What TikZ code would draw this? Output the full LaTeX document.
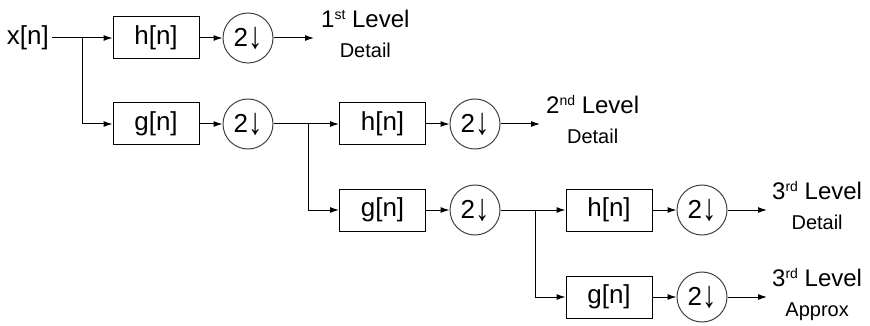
\documentclass[tikz,border=0pt]{standalone}
\usepackage{fontspec}
\setmainfont{Liberation Sans}
\usetikzlibrary{arrows.meta}
\begin{document}
\begin{tikzpicture}[x=1pt,y=-1pt,
  every node/.style={font=\fontsize{26}{26}\selectfont, inner sep=0pt},
  filt/.style={draw, line width=1pt, minimum width=86pt, minimum height=42pt},
  down/.style={draw=black!75, circle, line width=1pt, minimum size=50pt},
  conn/.style={line width=1pt, -{Latex[length=9pt,width=6pt]}},
  wire/.style={line width=1pt},
  lvl/.style={anchor=base west, font=\fontsize{24}{24}\selectfont},
  sub/.style={font=\fontsize{20}{20}\selectfont, anchor=base}
]
\newcommand{\supx}[1]{\raisebox{8pt}{\fontsize{14}{14}\selectfont #1}}
\newcommand{\dwn}{2\raisebox{-2pt}{\scalebox{1.1}[1.45]{↓}}}
\useasboundingbox (0,0) rectangle (870,326);

% row 1
\node[anchor=east, inner sep=3pt] (x) at (52,38) {x[n]};
\coordinate (b1) at (82,38);
\node[filt] (h1) at (156,38) {h[n]};
\node[down] (d1) at (248,38) {\dwn};
\coordinate (o1) at (314,38);
% row 2
\node[filt] (g1) at (156,124) {g[n]};
\node[down] (d2) at (248,124) {\dwn};
\coordinate (b2) at (308,124);
\node[filt] (h2) at (382.5,124) {h[n]};
\node[down] (d3) at (475,124) {\dwn};
\coordinate (o2) at (540,124);
% row 3
\node[filt] (g2) at (382.5,210) {g[n]};
\node[down] (d4) at (475,210) {\dwn};
\coordinate (b3) at (535,210);
\node[filt] (h3) at (609,210) {h[n]};
\node[down] (d5) at (702,210) {\dwn};
\coordinate (o3) at (767,210);
% row 4
\node[filt] (g3) at (609,297) {g[n]};
\node[down] (d6) at (702,297) {\dwn};
\coordinate (o4) at (767,297);

% labels
\node[lvl] (l1) at (321,27.5) {1\supx{st} Level};
\node[sub] (t1) at ([yshift=-30pt]l1.base) {Detail};
\node[lvl] (l2) at (546,113.5) {2\supx{nd} Level};
\node[sub] (t2) at ([yshift=-30pt]l2.base) {Detail};
\node[lvl] (l3) at (772,199.5) {3\supx{rd} Level};
\node[sub] (t3) at ([yshift=-30pt]l3.base) {Detail};
\node[lvl] (l4) at (772,286.5) {3\supx{rd} Level};
\node[sub] (t4) at ([yshift=-30pt]l4.base) {Approx};

% connectors
\draw[wire] (x) -- (b1);
\draw[conn] (b1) -- (h1);
\draw[conn] (h1) -- (d1);
\draw[conn] (d1) -- (o1);
\draw[conn] (b1) |- (g1);
\draw[conn] (g1) -- (d2);
\draw[wire] (d2) -- (b2);
\draw[conn] (b2) -- (h2);
\draw[conn] (h2) -- (d3);
\draw[conn] (d3) -- (o2);
\draw[conn] (b2) |- (g2);
\draw[conn] (g2) -- (d4);
\draw[wire] (d4) -- (b3);
\draw[conn] (b3) -- (h3);
\draw[conn] (h3) -- (d5);
\draw[conn] (d5) -- (o3);
\draw[conn] (b3) |- (g3);
\draw[conn] (g3) -- (d6);
\draw[conn] (d6) -- (o4);
\end{tikzpicture}
\end{document}
